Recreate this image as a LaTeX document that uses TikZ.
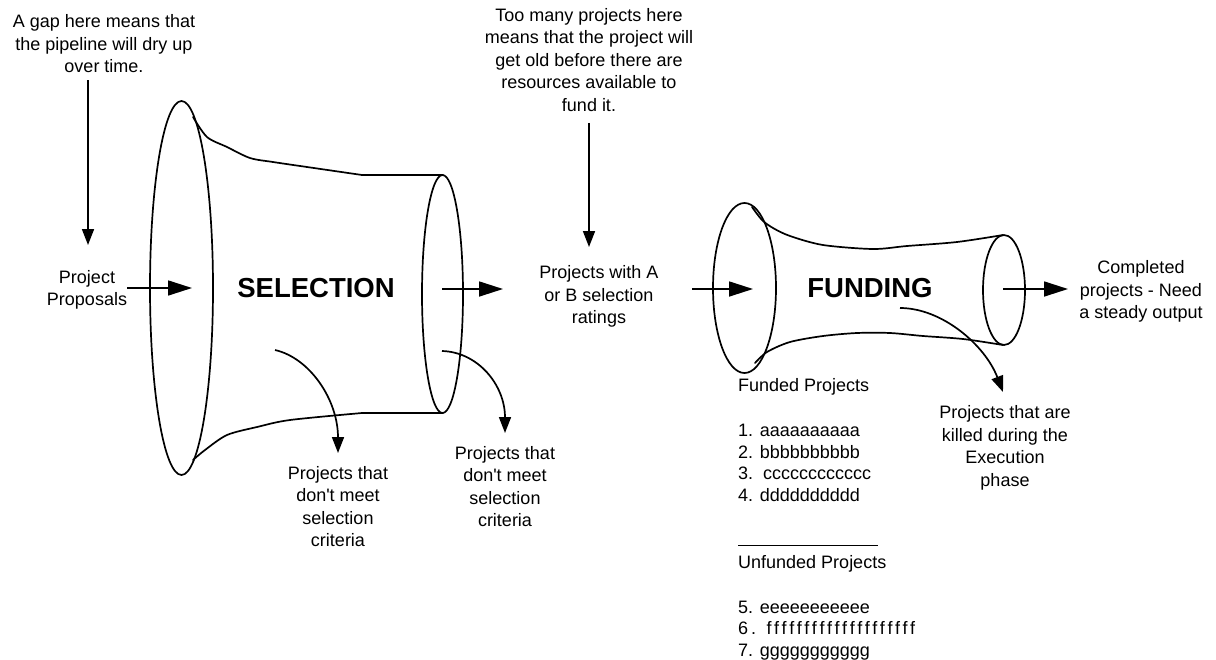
\documentclass[tikz,border=0pt]{standalone}
\usepackage{fontspec}
\setmainfont{Liberation Sans}
\usetikzlibrary{arrows.meta}

\begin{document}
\begin{tikzpicture}[x=1pt,y=-1pt,
  txt/.style={font=\fontsize{18}{22.5}\selectfont, align=center, inner sep=0pt},
  big/.style={font=\fontsize{27.5}{33}\selectfont\bfseries, inner sep=0pt},
  lst/.style={font=\fontsize{18}{22.5}\selectfont, inner sep=0pt, anchor=base west},
  hand/.style={line width=1.7pt, line join=round, line cap=round},
  flow/.style={line width=1.7pt, -{Triangle[length=24pt,width=15pt]}},
  note/.style={line width=1.7pt, -{Triangle[length=16pt,width=12pt]}},
]
\useasboundingbox (0,0) rectangle (1216,659);

% ---------- SELECTION funnel ----------
\draw[hand] (181.5,288) ellipse [x radius=31.5, y radius=187];
\draw[hand] (442.5,294) ellipse [x radius=20.5, y radius=119];
\draw[hand] plot[smooth, tension=0.5] coordinates
  {(193,117) (207,137) (227,147) (250,158) (273,162) (307,167) (362,175)} -- (443,175);
\draw[hand] plot[smooth, tension=0.5] coordinates
  {(193,460) (205,450) (227,435) (257,427) (290,420) (362,413)} -- (443,413);
\node[big] (selection) at (316,288) {SELECTION};

% ---------- FUNDING funnel ----------
\draw[hand] (744.5,288) ellipse [x radius=31.5, y radius=85];
\draw[hand] (1004,290) ellipse [x radius=21, y radius=55];
\draw[hand] plot[smooth, tension=0.5] coordinates
  {(752,207) (762,220) (773,228) (790,236) (823,245) (873,249) (907,246) (957,242) (1003,235)};
\draw[hand] plot[smooth, tension=0.5] coordinates
  {(755,363) (767,352) (790,342) (823,336) (857,333) (890,333) (923,336) (963,339) (1003,345)};
\node[big] (funding) at (870,288) {FUNDING};

% ---------- text blocks ----------
\node[txt] (gap) at (104,44) {A gap here means that\\the pipeline will dry up\\over time.};
\node[txt] (proposals) at (87,290) {Project\\Proposals};
\node[txt] (toomany) at (589,60) {Too many projects here\\means that the project will\\get old before there are\\resources available to\\fund it.};
\node[txt] (withA) at (599,296.4) {Projects with A\\or B selection\\ratings};
\node[txt] (rej1) at (338,506.75) {Projects that\\don\textquotesingle t meet\\selection\\criteria};
\node[txt] (rej2) at (505,486.75) {Projects that\\don\textquotesingle t meet\\selection\\criteria};
\node[txt] (killed) at (1005,447.6) {Projects that are\\killed during the\\Execution\\phase};
\node[txt] (completed) at (1141,291.4) {Completed\\projects - Need\\a steady output};

% ---------- project lists ----------
\node[lst] (funded) at (738,391.5) {Funded Projects};
\node[lst] (itemA) at (738,436.5) {1. aaaaaaaaaa};
\node[lst] (itemB) at (738,458.5) {2. bbbbbbbbbb};
\node[lst] (itemC) at (738,479.5) {3.\ \ cccccccccccc};
\node[lst] (itemD) at (738,501.5) {4. dddddddddd};
\draw[line width=1pt] (738,545) -- (878,545);
\node[lst] (unfunded) at (738,568.5) {Unfunded Projects};
\node[lst] (itemE) at (738,613.5) {5. eeeeeeeeeee};
\node[lst] (itemF) at (738,634.5) {\addfontfeature{LetterSpace=16}6. ffffffffffffffffffff};
\node[lst] (itemG) at (738,656.5) {7. ggggggggggg};

% ---------- connector end points ----------
\coordinate (gapStart) at (88,80);
\coordinate (gapEnd) at (88,245);
\coordinate (selIn) at (192,288);
\coordinate (selOut) at (442,289);
\coordinate (selOutEnd) at (503,289);
\coordinate (tooEnd) at (589,247);
\coordinate (fundIn0) at (692,289);
\coordinate (fundIn) at (753,289);
\coordinate (fundOut) at (1003,289);
\coordinate (fundOutEnd) at (1068,289);
\coordinate (rej1Src) at (275,350);
\coordinate (rej1Tip) at (338,453);
\coordinate (rej2Src) at (442,351);
\coordinate (rej2Tip) at (505,433);
\coordinate (killSrc) at (900,308);
\coordinate (killTip) at (1003,392);

% ---------- connectors ----------
\draw[note] (gapStart) -- (gapEnd);
\draw[note] ([yshift=-11pt]toomany.south) -- (tooEnd);
\draw[flow] (proposals.east |- selIn) -- (selIn);
\draw[flow] (selOut) -- (selOutEnd);
\draw[flow] (fundIn0) -- (fundIn);
\draw[flow] (fundOut) -- (fundOutEnd);
\draw[note] (rej1Src) .. controls (310,358) and (338,400) .. (rej1Tip);
\draw[note] (rej2Src) .. controls (478,352) and (505,385) .. (rej2Tip);
\draw[note] (killSrc) .. controls (942,308) and (985,345) .. (killTip);
\end{tikzpicture}
\end{document}
